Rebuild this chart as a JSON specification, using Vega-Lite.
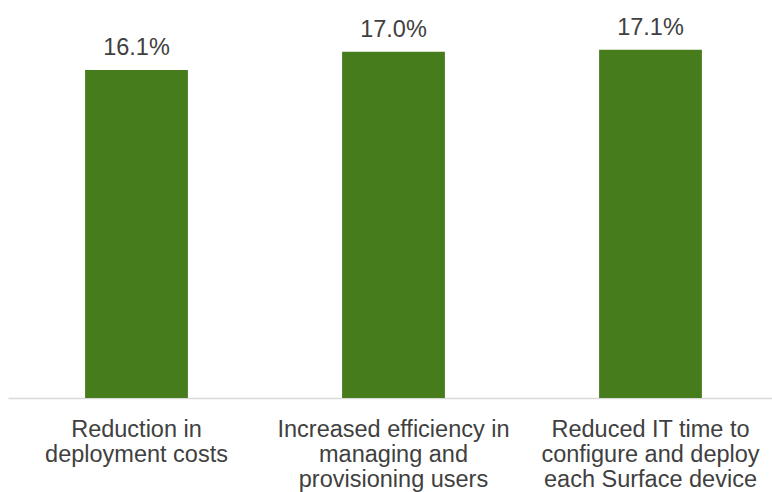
{
  "$schema": "https://vega.github.io/schema/vega-lite/v6.json",
  "autosize": "none",
  "width": 771,
  "height": 398,
  "padding": {"left": 8, "top": 0, "right": 0, "bottom": 94},
  "background": "white",
  "data": {"values": [
    {"category": "Reduction in|deployment costs", "value": 0.161},
    {"category": "Increased efficiency in|managing and|provisioning users", "value": 0.170},
    {"category": "Reduced IT time to|configure and deploy|each Surface device", "value": 0.171}
  ]},
  "encoding": {
    "x": {"field": "category", "type": "nominal", "sort": null,
      "scale": {"paddingInner": 0.6, "paddingOuter": 0.3},
      "axis": {"title": null, "labelAngle": 0, "labelExpr": "split(datum.label, '|')",
        "labelFont": "Liberation Sans", "labelFontSize": 23.5, "labelColor": "#404040",
        "labelLineHeight": 25, "labelPadding": 19, "ticks": false,
        "domainColor": "#d9d9d9", "domainWidth": 1.5, "labelLimit": 400}},
    "y": {"field": "value", "type": "quantitative",
      "scale": {"domain": [0, 0.1954], "nice": false}, "axis": null}
  },
  "layer": [
    {"mark": {"type": "bar", "color": "#477c1d"}},
    {"mark": {"type": "text", "baseline": "alphabetic", "dy": -15, "font": "Liberation Sans", "fontSize": 23.5, "color": "#404040"},
     "encoding": {"text": {"field": "value", "type": "quantitative", "format": ".1%"}}}
  ],
  "config": {"view": {"stroke": null}}
}
